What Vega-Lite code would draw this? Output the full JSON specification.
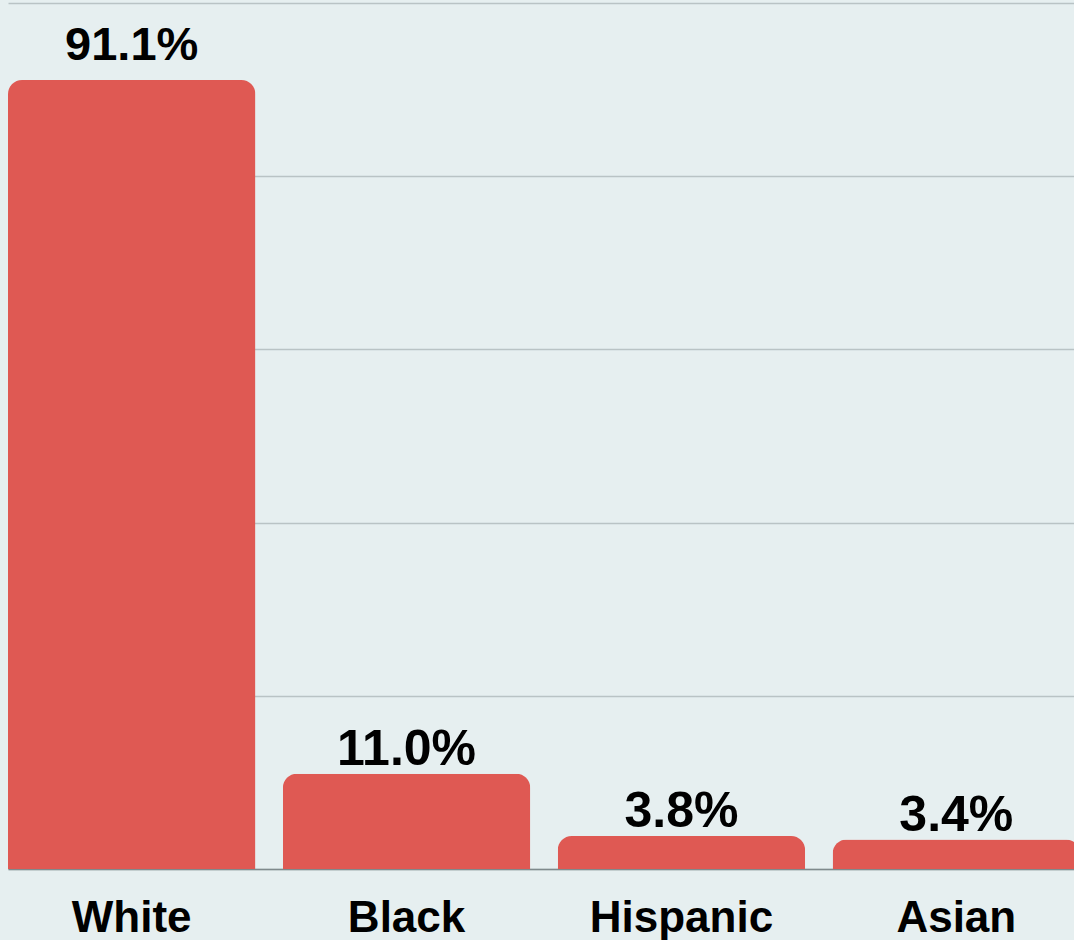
{
  "$schema": "https://vega.github.io/schema/vega-lite/v6.json",
  "width": 1072,
  "height": 866,
  "autosize": {"type": "none"},
  "padding": {"top": 3, "left": 8, "right": 0, "bottom": 71},
  "background": "#e6eff0",
  "config": {
    "view": {"stroke": null},
    "font": "Liberation Sans"
  },
  "data": {
    "values": [
      {"group": "White", "pct": 91.1, "label": "91.1%"},
      {"group": "Black", "pct": 11.0, "label": "11.0%"},
      {"group": "Hispanic", "pct": 3.8, "label": "3.8%"},
      {"group": "Asian", "pct": 3.4, "label": "3.4%"}
    ]
  },
  "encoding": {
    "x": {
      "field": "group",
      "type": "nominal",
      "sort": null,
      "scale": {"paddingInner": 0.1, "paddingOuter": 0},
      "axis": {
        "title": null,
        "labelAngle": 0,
        "labelFont": "Liberation Sans",
        "labelFontSize": 44,
        "labelFontWeight": "bold",
        "labelColor": "#000000",
        "labelPadding": 27,
        "labelLimit": 0,
        "ticks": false,
        "domain": true,
        "domainColor": "#7f8a8c",
        "domainWidth": 1.5,
        "grid": false
      }
    },
    "y": {
      "field": "pct",
      "type": "quantitative",
      "scale": {"domain": [0, 100], "nice": false},
      "axis": {
        "title": null,
        "labels": false,
        "ticks": false,
        "domain": false,
        "values": [0, 20, 40, 60, 80, 100],
        "grid": true,
        "gridColor": "#b9c3c5",
        "gridWidth": 1.5
      }
    }
  },
  "layer": [
    {
      "mark": {
        "type": "bar",
        "color": "#df5953",
        "cornerRadiusTopLeft": 14,
        "cornerRadiusTopRight": 14
      }
    },
    {
      "transform": [{"filter": "datum.pct > 50"}],
      "mark": {
        "type": "text",
        "baseline": "alphabetic",
        "dy": -20,
        "font": "Liberation Sans",
        "fontSize": 47,
        "fontWeight": "bold",
        "color": "#000000"
      },
      "encoding": {"text": {"field": "label"}}
    },
    {
      "transform": [{"filter": "datum.pct <= 50"}],
      "mark": {
        "type": "text",
        "baseline": "alphabetic",
        "dy": -9,
        "font": "Liberation Sans",
        "fontSize": 50,
        "fontWeight": "bold",
        "color": "#000000"
      },
      "encoding": {"text": {"field": "label"}}
    }
  ]
}
